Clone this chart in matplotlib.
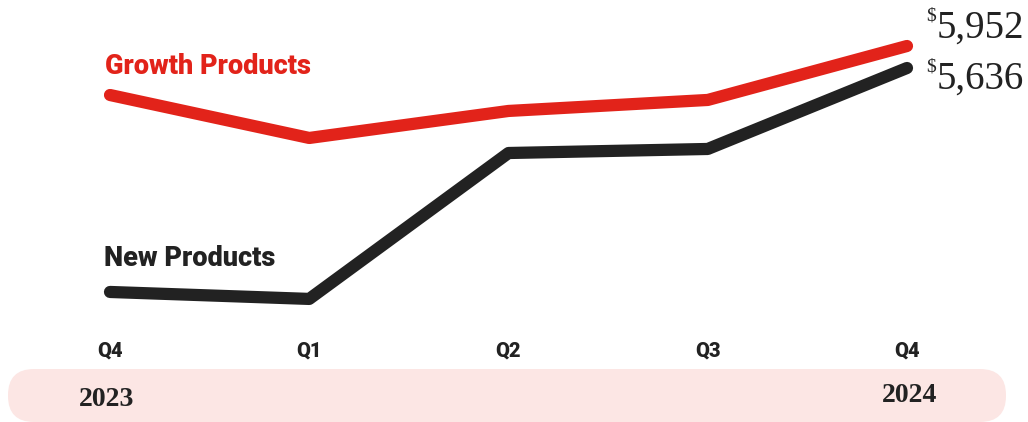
import matplotlib
matplotlib.use("Agg")
import matplotlib.pyplot as plt
from matplotlib.patches import FancyBboxPatch

quarters = ["Q4", "Q1", "Q2", "Q3", "Q4"]
years = ["2023", "2024"]
growth_products = [5248, 4631, 5019, 5177, 5952]
new_products = [2419, 2319, 4415, 4473, 5636]

RED = "#E2231A"
BLACK = "#222222"
PINK = "#FCE6E4"

W, H = 1028, 422
fig = plt.figure(figsize=(W / 100, H / 100), dpi=100)

# background overlay axes in pixel coords
bg = fig.add_axes([0, 0, 1, 1], zorder=0)
bg.set_xlim(0, W)
bg.set_ylim(H, 0)
bg.axis("off")
band = FancyBboxPatch((8, 369), 998, 53, boxstyle="round,pad=0,rounding_size=26",
                      facecolor=PINK, edgecolor="none")
bg.add_patch(band)

# main axes: x 110..907 px, y pixel 20..320
x0, x1 = 110, 907
ytop, ybot = 20, 320
ax = fig.add_axes([x0 / W, 1 - ybot / H, (x1 - x0) / W, (ybot - ytop) / H], zorder=1)
ax.patch.set_alpha(0)
ax.set_xlim(0, len(quarters) - 1)
scale = 14.364
ax.set_ylim(5952 - (ybot - 46) * scale, 5952 + (46 - ytop) * scale)
ax.axis("off")

xs = list(range(len(quarters)))
ax.plot(xs, growth_products, color=RED, lw=8.8, solid_capstyle="round",
        solid_joinstyle="round", clip_on=False)
ax.plot(xs, new_products, color=BLACK, lw=8.8, solid_capstyle="round",
        solid_joinstyle="round", clip_on=False)

sans = ["Roboto", "DejaVu Sans"]
serif = ["Liberation Serif", "DejaVu Serif"]

bg.text(105, 67, "Growth Products", color=RED, fontsize=19.5, fontweight="heavy",
        family=sans, ha="left", va="center")
bg.text(104, 258, "New Products", color=BLACK, fontsize=19.5, fontweight="heavy",
        family=sans, ha="left", va="center")

for i, q in enumerate(quarters):
    px = x0 + i * (x1 - x0) / (len(quarters) - 1)
    bg.text(px, 351, q, color=BLACK, fontsize=14.5, fontweight="heavy", family=sans,
            ha="center", va="center")

bg.text(107, 400, years[0], color=BLACK, fontsize=20, fontweight="bold", family=serif,
        ha="center", va="center")
bg.text(910, 396, years[1], color=BLACK, fontsize=20, fontweight="bold", family=serif,
        ha="center", va="center")

# value labels
for val, py in [(growth_products[-1], 28), (new_products[-1], 79)]:
    bg.text(937, py, f"{val:,}", color=BLACK, fontsize=28, family=serif,
            ha="left", va="center")
    bg.text(936, py - 12, "$", color=BLACK, fontsize=14, family=serif,
            ha="right", va="center")

fig.savefig("out.png", dpi=100)
